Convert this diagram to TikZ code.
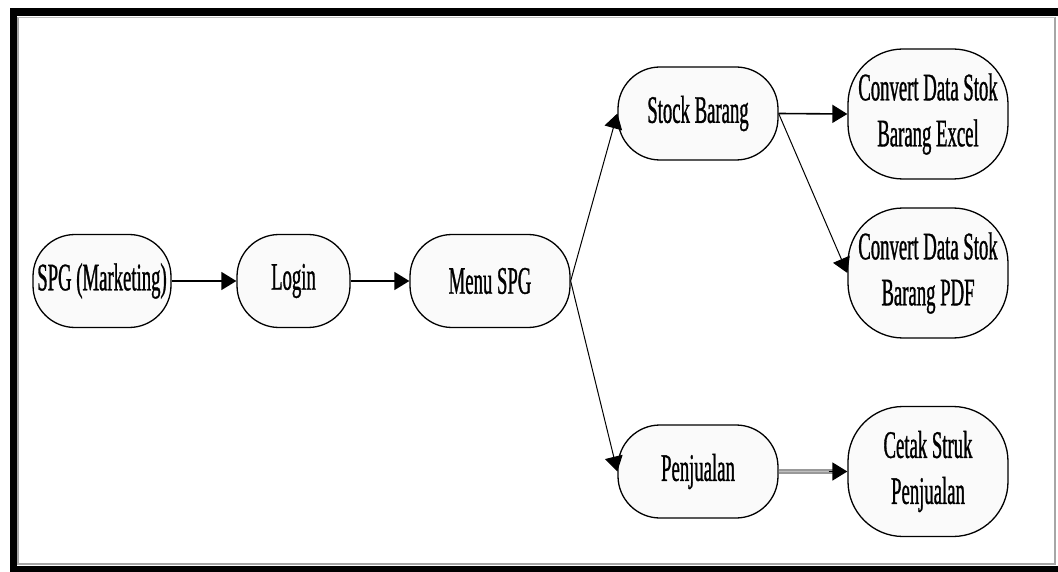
\documentclass[tikz,border=0pt]{standalone}
\usepackage{fontspec}
\setmainfont{Liberation Serif}
\newfontfamily\narrowfont[FakeStretch=0.48, FakeBold=0.8]{Liberation Serif}
\usetikzlibrary{arrows.meta}

\begin{document}
\begin{tikzpicture}[x=1pt, y=-1pt,
		proc/.style={draw, line width=1.3pt, fill=gray!4, rounded corners=42pt,
			minimum height=93pt, inner sep=0pt, align=center,
			font=\narrowfont\fontsize{39}{46}\selectfont},
		tallproc/.style={proc, rounded corners=55pt, minimum height=130pt},
		flow/.style={-{Triangle[length=15pt, width=18pt]}, line width=1.6pt}]
			\def\W{1058};
			\def\H{572};

			\useasboundingbox (0,0) rectangle (\W,\H);

			\begin{scope}
				\fill [black] (10,8) rectangle (17,\H);
				\fill [black] (10,8) rectangle (\W,16);
				\fill [black] (10,566) rectangle (\W,\H);
				\draw [gray!70, line width=2pt] (18,17) -- (18,564) -- (1055,564) -- (1055,17);
				\draw [gray!50, line width=1.5pt] (18,17.5) -- (1055,17.5);
			\end{scope}

			\begin{scope}
				\node [proc, minimum width=138pt] (spg) at (102,281) {SPG (Marketing)};
				\node [proc, minimum width=113pt] (login) at (293.5,281) {Login};
				\node [proc, minimum width=160pt] (menu) at (490,281) {Menu SPG};
				\node [proc, minimum width=160pt] (stock) at (698,113.5) {Stock Barang};
				\node [proc, minimum width=160pt] (jual) at (698,471.5) {Penjualan};
				\node [tallproc, minimum width=160pt] (excel) at (928,114) {Convert Data Stok\\Barang Excel};
				\node [tallproc, minimum width=160pt] (pdf) at (928,273) {Convert Data Stok\\Barang PDF};
				\node [tallproc, minimum width=160pt] (struk) at (928,471.5) {Cetak Struk\\Penjualan};
			\end{scope}

			\draw [draw=gray!80, double=gray!50, double distance=1.8pt, line width=1.4pt, shorten >=14pt] (jual.east) -- (struk.west);

			\begin{scope}[flow]
				\draw (spg.east) -- (login.west);
				\draw (login.east) -- (menu.west);
				\draw [line width=1pt] (menu.east) -- (stock.west);
				\draw [line width=1pt] (menu.east) -- (jual.west);
				\draw (stock.east) -- (excel.west);
				\draw [line width=1pt] (stock.east) -- (pdf.west);
				\draw [shorten <=50pt] (jual.east) -- (struk.west);
			\end{scope}
		\end{tikzpicture}
\end{document}
